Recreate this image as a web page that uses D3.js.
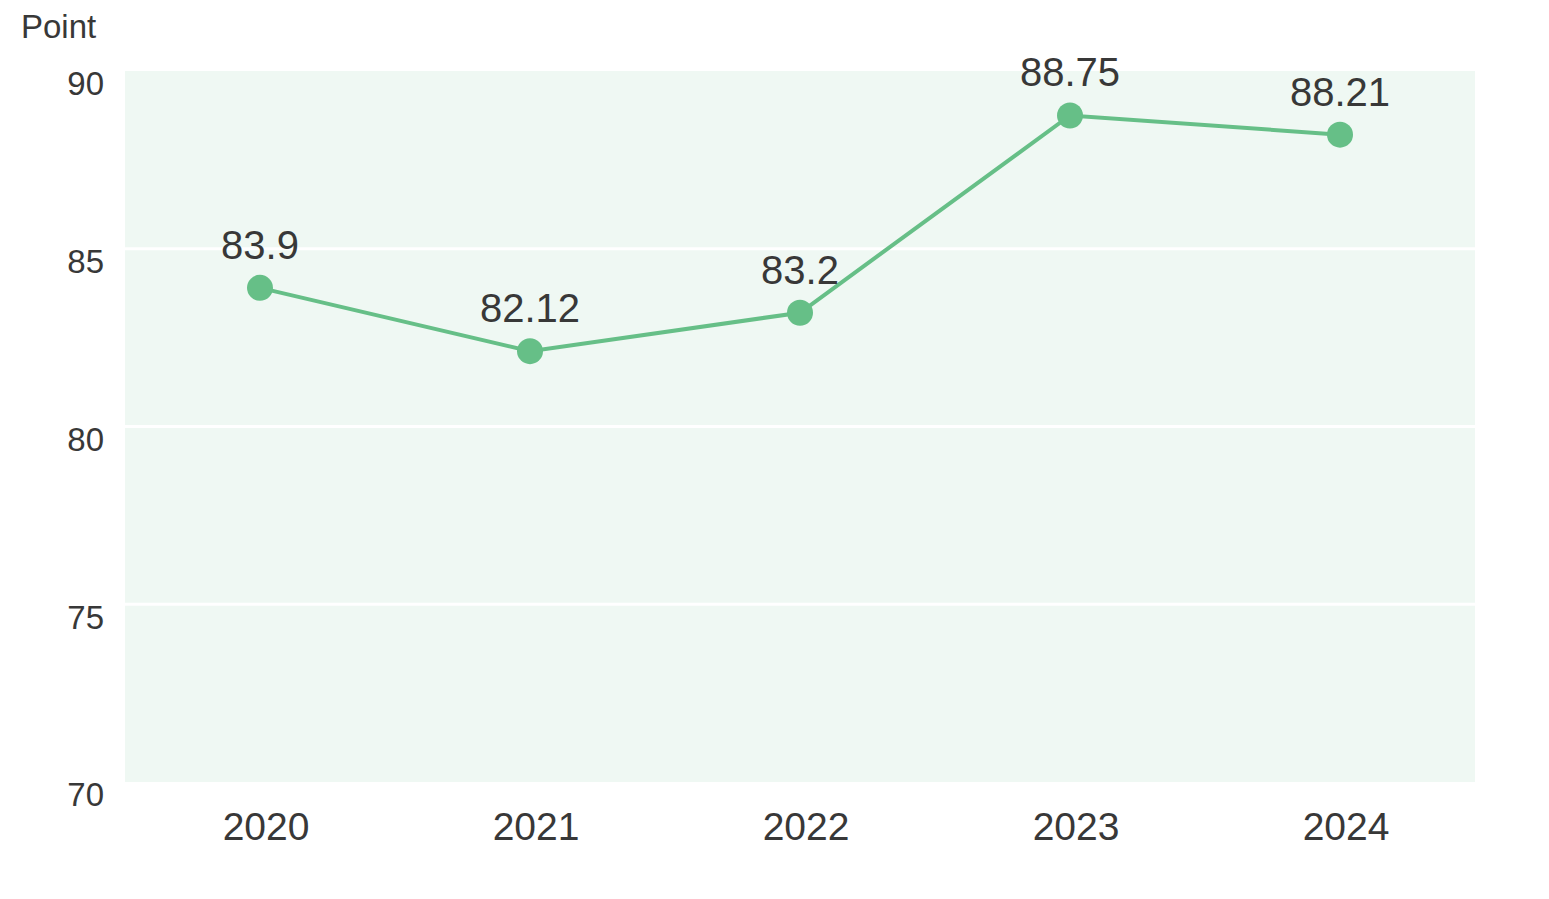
<!DOCTYPE html>
<html>
<head>
<meta charset="utf-8">
<script src="https://cdn.jsdelivr.net/npm/d3@7"></script>
<style>
  html, body { margin: 0; padding: 0; background: #ffffff; }
  svg { display: block; font-family: "Liberation Sans", Arial, sans-serif; }
</style>
</head>
<body>
<svg id="chart" width="1549" height="899"></svg>
<script>
const years = ["2020", "2021", "2022", "2023", "2024"];
const values = [83.9, 82.12, 83.2, 88.75, 88.21];
const valueLabels = ["83.9", "82.12", "83.2", "88.75", "88.21"];
const yTicks = [70, 75, 80, 85, 90];
const yUnit = "Point";

const svg = d3.select("#chart");
const margin = { left: 125, right: 74, top: 71, bottom: 117 };
const W = 1549, H = 899;
const x = d3.scaleBand().domain(years).range([margin.left, W - margin.right]).padding(0);
const y = d3.scaleLinear().domain([70, 90]).range([H - margin.bottom, margin.top]);

const textColor = "#383838";
const lineColor = "#66bf87";

// background
svg.append("rect")
  .attr("x", margin.left).attr("y", margin.top)
  .attr("width", W - margin.left - margin.right)
  .attr("height", H - margin.top - margin.bottom)
  .attr("fill", "#eff8f3");

// grid lines
svg.append("g").selectAll("line")
  .data(yTicks.filter(t => t !== 70 && t !== 90))
  .join("line")
  .attr("x1", margin.left).attr("x2", W - margin.right)
  .attr("y1", d => y(d)).attr("y2", d => y(d))
  .attr("stroke", "#ffffff").attr("stroke-width", 3);

// y axis labels
const yAxis = d3.axisLeft(y).tickValues(yTicks).tickSize(0).tickPadding(21);
const gy = svg.append("g").attr("transform", `translate(${margin.left},0)`).call(yAxis);
gy.select(".domain").remove();
gy.selectAll("text")
  .attr("font-size", 33).attr("fill", textColor)
  .attr("font-family", "'Liberation Sans', Arial, sans-serif")
  .attr("dy", "0.72em");

// y unit
svg.append("text").attr("x", 21).attr("y", 38)
  .attr("font-size", 33).attr("fill", textColor).text(yUnit);

// x axis labels
const xAxis = d3.axisBottom(x).tickSize(0).tickPadding(0);
const gx = svg.append("g").attr("transform", `translate(6,${H - margin.bottom})`).call(xAxis);
gx.select(".domain").remove();
gx.selectAll("text")
  .attr("font-size", 39).attr("fill", textColor)
  .attr("font-family", "'Liberation Sans', Arial, sans-serif")
  .attr("dy", null).attr("y", 58);

const cx = d => x(d) + x.bandwidth() / 2;

// line
const line = d3.line().x((d, i) => cx(years[i])).y(d => y(d));
svg.append("path").datum(values)
  .attr("d", line).attr("fill", "none")
  .attr("stroke", lineColor).attr("stroke-width", 4);

// points
svg.append("g").selectAll("circle").data(values).join("circle")
  .attr("cx", (d, i) => cx(years[i])).attr("cy", d => y(d))
  .attr("r", 13).attr("fill", lineColor);

// value labels
svg.append("g").selectAll("text").data(values).join("text")
  .attr("x", (d, i) => cx(years[i])).attr("y", d => y(d) - 29)
  .attr("text-anchor", "middle").attr("font-size", 40).attr("fill", textColor)
  .text((d, i) => valueLabels[i]);
</script>
</body>
</html>
